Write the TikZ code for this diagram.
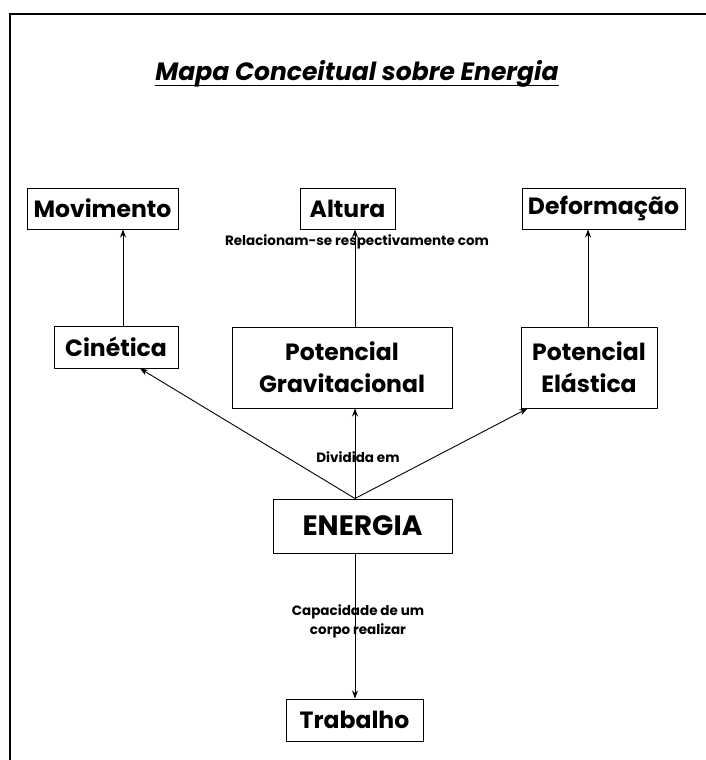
\documentclass[tikz,border=0pt]{standalone}
\usepackage{fontspec}
\setmainfont{Poppins}
\usetikzlibrary{arrows.meta}
\begin{document}
\begin{tikzpicture}[x=1pt,y=-1pt,
  concept/.style={draw,line width=1pt,inner sep=0pt,font=\fontsize{23.5}{32}\selectfont\bfseries,align=center},
  note/.style={inner sep=0pt,font=\fontsize{13.5}{19}\selectfont\bfseries,align=center},
  link/.style={line width=0.9pt,-{Stealth[length=8pt,width=6pt]}}]
\useasboundingbox (0,0) rectangle (705,760);
\fill[white] (0,0) rectangle (705,760);
% page frame
\draw[line width=2.2pt] (10,762) -- (10,14) -- (707,14);

% title
\node[inner sep=0pt,font=\fontsize{25}{28}\selectfont\bfseries\itshape] (title) at (357,74) {Mapa Conceitual sobre Energia};
\draw[line width=1.8pt] ([yshift=-5pt]title.base west) -- ([yshift=-5pt]title.base east);

% concepts
\node[concept,minimum width=151pt,minimum height=41pt] (mov)  at (102.5,208.5) {Movimento};
\node[concept,minimum width=95pt, minimum height=41pt] (alt)  at (347.5,208.5) {Altura};
\node[concept,minimum width=163pt,minimum height=41pt] (def)  at (603.5,208.5) {Deformação};
\node[concept,minimum width=124pt,minimum height=42pt] (cin)  at (116,347)     {Cinética};
\node[concept,minimum width=220pt,minimum height=81pt] (pg)   at (342,367.5)   {Potencial\\Gravitacional};
\node[concept,minimum width=136pt,minimum height=81pt] (pe)   at (589,367.5)   {Potencial\\Elástica};
\node[concept,minimum width=179pt,minimum height=54pt,font=\fontsize{28}{30}\selectfont\bfseries] (ene) at (362.5,526) {ENERGIA};
\node[concept,minimum width=137pt,minimum height=42pt] (trab) at (354.5,720)   {Trabalho};

% link phrases
\node[note] (rel) at (357,242) {Relacionam-se respectivamente com};
\node[note] (div) at (358,457) {Dividida em};
\node[note] (cap) at (358,621) {Capacidade de um\\corpo realizar};

% connectors
\coordinate (apex) at ([xshift=-7.5pt]ene.north);
\coordinate (bot)  at ([xshift=-7.5pt]ene.south);
\draw[link] ([xshift=7pt]cin.north) -- ([xshift=7pt]cin.north |- mov.south);
\draw[link] ([xshift=13pt]pg.north) -- ([xshift=13pt]pg.north |- alt.south);
\draw[link] ([xshift=-1pt]pe.north) -- ([xshift=-1pt]pe.north |- def.south);
\draw[link] (apex) -- ([xshift=24pt]cin.south);
\draw[link] (apex) -- (apex |- pg.south);
\draw[link] (apex) -- ([xshift=7pt]pe.south west);
\draw[link] (bot) -- (bot |- trab.north);
\end{tikzpicture}
\end{document}
